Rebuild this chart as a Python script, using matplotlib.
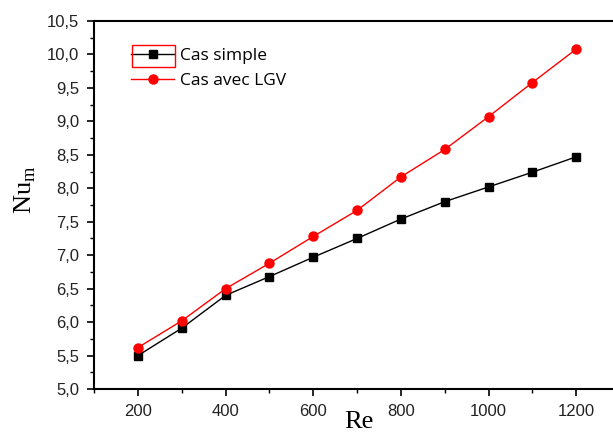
import matplotlib
matplotlib.use("Agg")
import matplotlib.pyplot as plt
from matplotlib.ticker import MultipleLocator, FuncFormatter
from matplotlib.patches import Rectangle

re_vals = [200, 300, 400, 500, 600, 700, 800, 900, 1000, 1100, 1200]
nu_simple = [5.50, 5.91, 6.40, 6.68, 6.97, 7.25, 7.54, 7.80, 8.02, 8.24, 8.47]
nu_lgv = [5.62, 6.02, 6.50, 6.88, 7.28, 7.67, 8.17, 8.58, 9.07, 9.58, 10.08]
label_simple = "Cas simple"
label_lgv = "Cas avec LGV"

W, H = 613, 432
fig = plt.figure(figsize=(W/100, H/100), dpi=100)
AX_L, AX_R, AX_T, AX_B = 94.2, 620, 21, 389
AW, AH = AX_R - AX_L, AX_B - AX_T
ax = fig.add_axes([AX_L/W, (H-AX_B)/H, AW/W, AH/H])

ax.plot(re_vals, nu_simple, color="black", lw=1.0, marker="s", ms=6, label=label_simple)
ax.plot(re_vals, nu_lgv, color="red", lw=1.0, marker="o", ms=6.5, label=label_lgv)

ax.set_xlim(100, 1300)
ax.set_ylim(5.0, 10.5)
ax.xaxis.set_major_locator(MultipleLocator(200))
ax.xaxis.set_minor_locator(MultipleLocator(100))
ax.yaxis.set_major_locator(MultipleLocator(0.5))
ax.yaxis.set_minor_locator(MultipleLocator(0.25))
ax.yaxis.set_major_formatter(FuncFormatter(lambda v, p: f"{v:.1f}".replace(".", ",")))
ax.xaxis.set_major_formatter(FuncFormatter(lambda v, p: f"{int(v)}"))

ax.tick_params(axis="both", which="major", direction="out", length=5, width=1.2,
               labelsize=12, colors="black", pad=6)
ax.tick_params(axis="both", which="minor", direction="out", length=3, width=1.0)
ax.tick_params(top=False, right=False)
for lab in ax.get_xticklabels() + ax.get_yticklabels():
    lab.set_fontfamily("Liberation Sans")
    lab.set_color("#222222")

for s in ax.spines.values():
    s.set_linewidth(1.5)

ax.set_xlabel("Re", fontsize=19, family="Liberation Serif", labelpad=0, va="top")
ax.xaxis.set_label_coords((359-AX_L)/AW, -(411-AX_B)/AH)
ax.set_ylabel(r"Nu$_{\mathregular{m}}$", fontsize=19, family="Liberation Serif")
ax.yaxis.set_label_coords(-(AX_L-38)/AW, (AX_B-190)/AH)

leg = ax.legend(loc="upper left", bbox_to_anchor=((131-AX_L)/AW, 1-(48-AX_T)/AH),
                frameon=False, handlelength=2.5, handletextpad=0.35,
                labelspacing=0.5, borderaxespad=0, borderpad=0,
                prop={"family": "Open Sans", "size": 12.5})

fig.patches.append(Rectangle((132/W, (H-67)/H), 43/W, 22/H, transform=fig.transFigure,
                             fill=False, edgecolor="red", lw=1.0))

fig.savefig("out.png", dpi=100)
